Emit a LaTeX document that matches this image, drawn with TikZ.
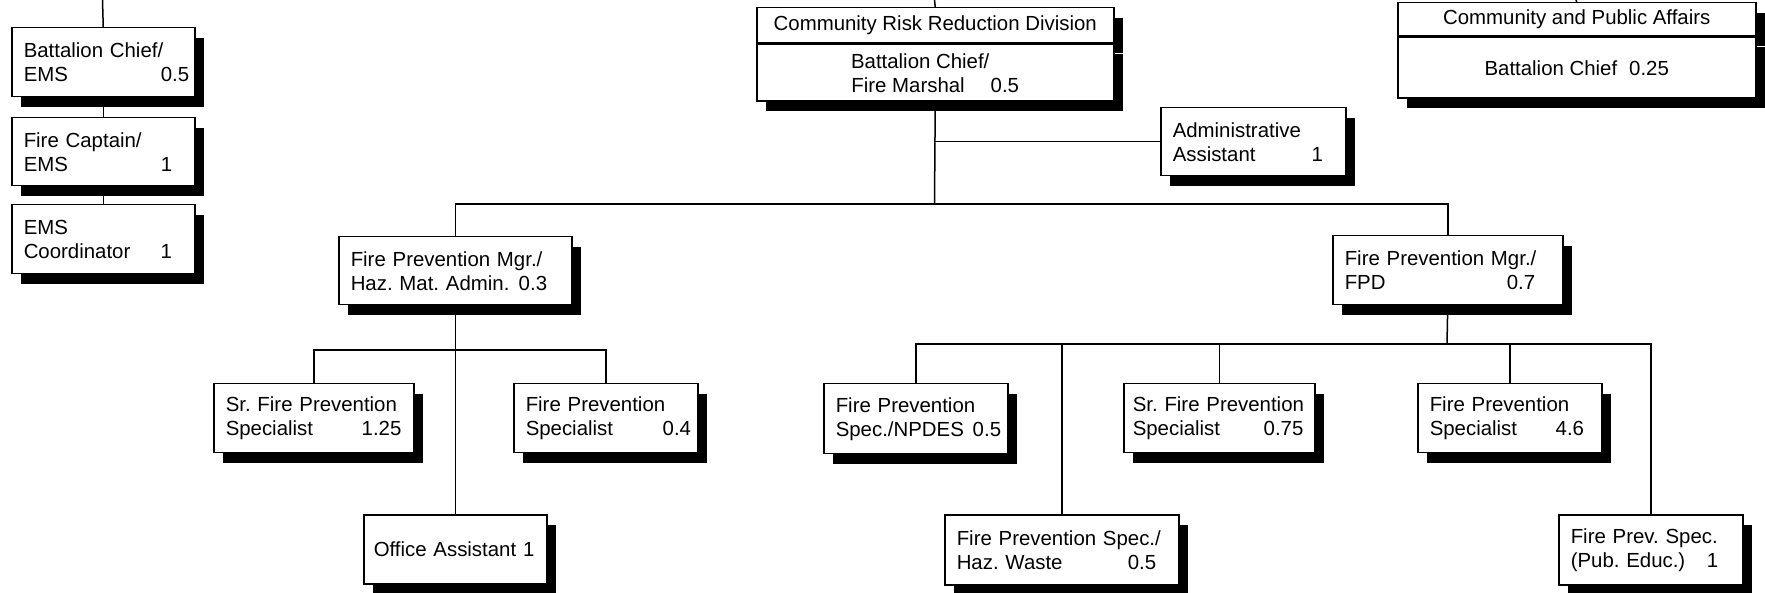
\documentclass[tikz,border=0pt]{standalone}
\usepackage{fontspec}
\setmainfont{Liberation Sans}
\usetikzlibrary{shadows}

\newcommand{\ftecol}[3]{\makebox[#1pt][l]{#2}#3}

\tikzset{
    orgbox/.style = {draw, fill = white, line width = 1.5pt, anchor = north west, align = left,
        inner xsep = 12pt, inner ysep = 0pt, font = \fontsize{20.4pt}{24pt}\selectfont\frenchspacing,
        drop shadow = {shadow xshift = 9pt, shadow yshift = -10pt, fill = black, opacity = 1}},
    headbox/.style = {orgbox, align = center},
    link/.style = {line width = 1.5pt}
}

\begin{document}
\begin{tikzpicture}[x = 1pt, y = -1pt]
                \useasboundingbox (0, 0) rectangle (1765, 593);

                \node (bcems) at (11, 27) [orgbox, text width = 159pt, minimum height = 69pt] {Battalion Chief/\\\ftecol{137}{EMS}{0.5}};
                \node (fcems) at (11, 117) [orgbox, text width = 159pt, minimum height = 68pt] {Fire Captain/\\\ftecol{137}{EMS}{1}};
                \node (emsco) at (11, 204) [orgbox, text width = 159pt, minimum height = 69pt] {EMS\\\ftecol{137}{Coordinator}{1}};

                \node (crrhead) at (756, 7) [headbox, minimum width = 357pt, minimum height = 35pt] {Community Risk Reduction Division};
                \node (crr) at (crrhead.south) [headbox, anchor = north, minimum width = 357pt, minimum height = 57pt] {Battalion Chief/\hspace*{30pt}\\Fire Marshal\hspace{26pt}0.5};
                \node (admin) at (1160, 107) [orgbox, text width = 161pt, minimum height = 68pt] {Administrative\\\ftecol{139}{Assistant}{1}};

                \node (cpahead) at (1397, 2) [headbox, minimum width = 358pt, minimum height = 33pt] {Community and Public Affairs};
                \node (cpa) at (cpahead.south) [headbox, anchor = north, minimum width = 358pt, minimum height = 61pt] {Battalion Chief\hspace{12pt}0.25};

                \node (fpmhaz) at (338, 236) [orgbox, text width = 209pt, minimum height = 68pt] {Fire Prevention Mgr./\\\ftecol{168}{Haz. Mat. Admin.}{0.3}};
                \node (fpmfpd) at (1332, 235) [orgbox, text width = 206pt, minimum height = 69pt] {Fire Prevention Mgr./\\\ftecol{162}{FPD}{0.7}};

                \node (srfps1) at (213, 383) [orgbox, text width = 176pt, minimum height = 69pt] {Sr. Fire Prevention\\\ftecol{136}{Specialist}{1.25}};
                \node (fps04) at (513, 383) [orgbox, text width = 160pt, minimum height = 69pt] {Fire Prevention\\\ftecol{137}{Specialist}{0.4}};
                \node (officeast) at (363, 514) [orgbox, inner xsep = 10pt, text width = 163pt, minimum height = 69pt] {Office Assistant 1};

                \node (npdes) at (823, 383) [orgbox, text width = 160pt, minimum height = 70pt] {Fire Prevention\\\ftecol{137}{Spec./NPDES}{0.5}};
                \node (hazwaste) at (944, 514) [orgbox, text width = 210pt, minimum height = 70pt] {Fire Prevention Spec./\\\ftecol{171}{Haz. Waste}{0.5}};
                \node (srfps2) at (1123, 383) [orgbox, inner xsep = 9pt, text width = 173pt, minimum height = 69pt] {Sr. Fire Prevention\\\ftecol{131}{Specialist}{0.75}};
                \node (fps46) at (1417, 383) [orgbox, text width = 160pt, minimum height = 69pt] {Fire Prevention\\\ftecol{126}{Specialist}{4.6}};
                \node (pubeduc) at (1558, 514) [orgbox, text width = 160pt, minimum height = 70pt] {Fire Prev. Spec.\\\ftecol{136}{(Pub. Educ.)}{1}};

                \coordinate (topl) at (102.5, 0);
                \coordinate (topm) at (934.5, 0);
                \coordinate (topr) at (1576, 0);
                \coordinate (mainbar) at (934.5, 204);
                \coordinate (lbar) at (454.5, 350);
                \coordinate (rbar) at (1447, 344);

                \foreach \a/\b in {topl/bcems, bcems/fcems, fcems/emsco, topm/crrhead, topr/cpahead} {
                    \draw[link] (\a) -- (\b.north);
                }

                \draw[link] (crr.south) -- (mainbar);
                \draw[link] (crr.south |- admin.west) -- (admin.west);
                \draw[link] (fpmhaz.north) |- (mainbar) -| (fpmfpd.north);

                \draw[link] (fpmhaz.south) -- (officeast.north);
                \draw[link] (srfps1.north) |- (lbar) -| (fps04.north);

                \draw[link] (fpmfpd.south) -- (rbar);
                \draw[link] (npdes.north) |- (rbar) -| (pubeduc.north);
                \foreach \n in {hazwaste, srfps2, fps46} {
                    \draw[link] (\n.north) -- (\n.north |- rbar);
                }
\end{tikzpicture}
\end{document}
